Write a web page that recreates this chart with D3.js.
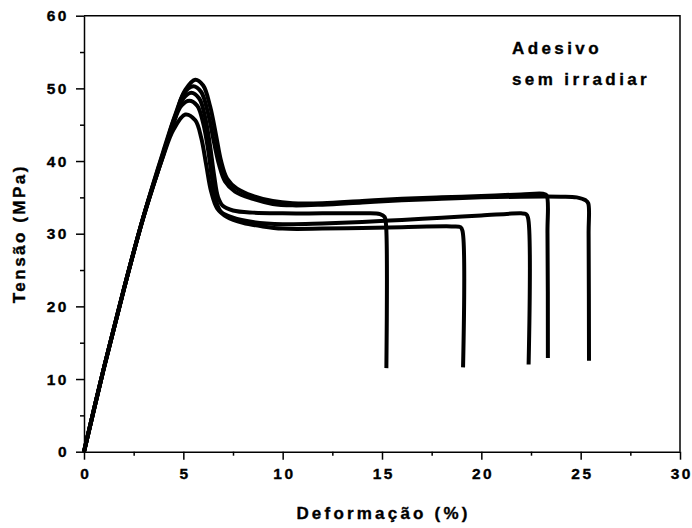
<!DOCTYPE html>
<html>
<head>
<meta charset="utf-8">
<script src="https://cdn.jsdelivr.net/npm/d3@7"></script>
<style>
  html, body { margin: 0; padding: 0; background: #fff; }
  svg { display: block; }
  text { font-family: "Liberation Sans", Arial, sans-serif; font-weight: bold; fill: #000; stroke: #000; stroke-width: 0.35; }
</style>
</head>
<body>
<script>
// Stress–strain curves of the non-irradiated adhesive, one array per specimen: [strain %, stress MPa]
const specimen1 = [[0,0],[1,11.5],[2,22.3],[3,32.4],[4,41.4],[4.6,46.4],[5.1,49.8],[5.6,51.2],[6.0,50.4],[6.35,47.5],[6.65,43.5],[6.9,40],[7.2,37.6],[7.7,36.2],[8.5,35.2],[9.5,34.5],[10.5,34.2],[12,34.2],[14,34.5],[16,34.8],[18,35.0],[20,35.2],[22,35.4],[23.1,35.5],[23.28,35.3],[23.33,30],[23.35,12.9]];
const specimen2 = [[0,0],[1,11.5],[2,22.3],[3,32.4],[4,41.2],[4.6,46.0],[5.0,49.2],[5.5,50.3],[5.9,49.5],[6.25,46.5],[6.55,42.5],[6.8,39.5],[7.1,37.2],[7.6,35.8],[8.5,34.8],[9.5,34.1],[10.5,33.9],[12,34.0],[14,34.3],[16,34.6],[18,34.8],[20,35.0],[22,35.1],[24,35.1],[24.8,35.0],[25.25,34.6],[25.38,34.2],[25.4,30],[25.42,12.5]];
const specimen3 = [[0,0],[1,11.5],[2,22.3],[3,32.4],[4,41.0],[4.5,45.5],[5.0,48.6],[5.4,49.4],[5.8,48.6],[6.1,46],[6.35,42],[6.55,38],[6.75,35],[7.0,33.8],[7.5,33.2],[8.5,32.9],[10,32.8],[12,32.8],[14,32.8],[14.9,32.7],[15.13,32.3],[15.2,31.3],[15.22,11.5]];
const specimen4 = [[0,0],[1,11.5],[2,22.3],[3,32.4],[4,40.9],[4.5,45.2],[4.9,47.6],[5.3,48.3],[5.7,47.6],[6.0,45.2],[6.25,41.5],[6.45,37.5],[6.65,34.5],[6.9,33],[7.5,32.2],[8.5,31.6],[10,31.3],[12,31.4],[14,31.6],[16,31.9],[18,32.2],[20,32.5],[22,32.8],[22.25,32.7],[22.35,32.2],[22.38,12.0]];
const specimen5 = [[0,0],[1,11.5],[2,22.3],[3,32.3],[4,40.8],[4.5,44.3],[5.1,46.4],[5.6,45.6],[5.9,43.2],[6.15,39.5],[6.4,35.8],[6.7,33.5],[7.2,32.3],[8,31.5],[9,31.0],[10,30.7],[12,30.7],[14,30.8],[16,30.9],[18.5,31.0],[18.95,30.9],[19.05,30.4],[19.08,11.6]];
const specimens = [specimen1, specimen2, specimen3, specimen4, specimen5];

const xTicks = [0, 5, 10, 15, 20, 25, 30];
const xMinorTicks = [2.5, 7.5, 12.5, 17.5, 22.5, 27.5];
const yTicks = [0, 10, 20, 30, 40, 50, 60];
const yMinorTicks = [5, 15, 25, 35, 45, 55];

const xTitle = "Deformação (%)";
const yTitle = "Tensão (MPa)";
const noteLines = ["Adesivo", "sem irradiar"];

const W = 692, H = 528;
const margin = { top: 15.7, right: 12, bottom: 76.3, left: 84 };

const svg = d3.select("body").append("svg").attr("width", W).attr("height", H);

const x = d3.scaleLinear().domain([0, 30]).range([margin.left, W - margin.right]);
const y = d3.scaleLinear().domain([0, 60]).range([H - margin.bottom, margin.top]);

// frame: top and right edges
svg.append("path")
  .attr("d", `M${x(0)},${y(60)}H${x(30)}V${y(0)}`)
  .attr("fill", "none").attr("stroke", "#000").attr("stroke-width", 1.5);

// x axis
const gx = svg.append("g").attr("transform", `translate(0,${y(0)})`);
gx.call(d3.axisBottom(x).tickValues(xTicks).tickSize(8).tickSizeOuter(0).tickPadding(8).tickFormat(d3.format("d")));
gx.append("g").call(d3.axisBottom(x).tickValues(xMinorTicks).tickSize(4).tickSizeOuter(0).tickFormat(""))
  .select(".domain").remove();

// y axis
const gy = svg.append("g").attr("transform", `translate(${x(0)},0)`);
gy.call(d3.axisLeft(y).tickValues(yTicks).tickSize(8).tickSizeOuter(0).tickPadding(7).tickFormat(d3.format("d")));
gy.append("g").call(d3.axisLeft(y).tickValues(yMinorTicks).tickSize(4).tickSizeOuter(0).tickFormat(""))
  .select(".domain").remove();

svg.selectAll(".domain").attr("stroke", "#000").attr("stroke-width", 1.5);
svg.selectAll(".tick line").attr("stroke", "#000").attr("stroke-width", 1.5);
svg.selectAll(".tick text")
  .attr("font-family", "'Liberation Sans', Arial, sans-serif")
  .attr("font-weight", "bold")
  .attr("font-size", 15.5)
  .attr("letter-spacing", 2.5)
  .attr("fill", "#000");
gx.selectAll(".tick text").attr("dx", 1.25);

// axis titles
svg.append("text")
  .attr("x", (x(0) + x(30)) / 2 + 1.5).attr("y", 519)
  .attr("text-anchor", "middle").attr("font-size", 17).attr("letter-spacing", 3.2)
  .text(xTitle);

svg.append("text")
  .attr("transform", `translate(25,${(y(0) + y(60)) / 2}) rotate(-90)`)
  .attr("text-anchor", "middle").attr("font-size", 17).attr("letter-spacing", 2.5)
  .text(yTitle);

// annotation
svg.append("text").attr("x", 512).attr("y", 54)
  .attr("font-size", 17).attr("letter-spacing", 3.4).text(noteLines[0]);
svg.append("text").attr("x", 512).attr("y", 85)
  .attr("font-size", 17).attr("letter-spacing", 3.4).text(noteLines[1]);

// curves
const line = d3.line()
  .x(d => x(d[0]))
  .y(d => y(d[1]))
  .curve(d3.curveCatmullRom.alpha(0.5));

svg.append("g").selectAll("path")
  .data(specimens)
  .join("path")
  .attr("d", line)
  .attr("fill", "none")
  .attr("stroke", "#000")
  .attr("stroke-width", 4)
  .attr("stroke-linejoin", "round");
</script>
</body>
</html>
